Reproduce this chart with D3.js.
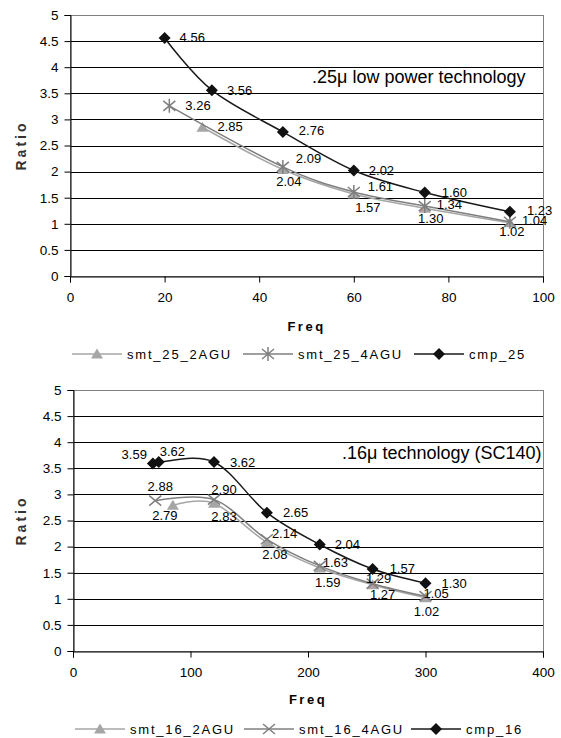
<!DOCTYPE html>
<html lang="en">
<head>
    <meta charset="UTF-8">
    <title>ratio vs freq</title>
    <script src="https://cdn.jsdelivr.net/npm/d3@7"></script>
    <style>
        body { margin: 0; background: #fff; }
        text { font-family: "Liberation Sans", Arial, sans-serif; }
    </style>
</head>
<body>
    <script>
        // values
        var yTicks = [0, 0.5, 1, 1.5, 2, 2.5, 3, 3.5, 4, 4.5, 5]
        var xTicks25 = [0, 20, 40, 60, 80, 100]
        var xTicks16 = [0, 100, 200, 300, 400]

        var freq25_2 = [28, 45, 60, 75, 93]
        var ratio25_2 = [2.85, 2.04, 1.57, 1.30, 1.02]
        var freq25_4 = [21, 45, 60, 75, 93]
        var ratio25_4 = [3.26, 2.09, 1.61, 1.34, 1.04]
        var freqCmp25 = [20, 30, 45, 60, 75, 93]
        var ratioCmp25 = [4.56, 3.56, 2.76, 2.02, 1.60, 1.23]

        var freq16_2 = [85, 120, 165, 210, 255, 300]
        var ratio16_2 = [2.79, 2.83, 2.08, 1.59, 1.27, 1.02]
        var freq16_4 = [70, 120, 165, 210, 255, 300]
        var ratio16_4 = [2.88, 2.90, 2.14, 1.63, 1.29, 1.05]
        var freqCmp16 = [68, 73, 120, 165, 210, 255, 300]
        var ratioCmp16 = [3.59, 3.62, 3.62, 2.65, 2.04, 1.57, 1.30]

        // where each data label sits relative to its point: [dx, dy, anchor]
        var nudge25_2 = [[15, -1, "start"], [6, 12, "middle"], [14, 13, "middle"], [6, 10, "middle"], [2, 9, "middle"]]
        var nudge25_4 = [[16, 0, "start"], [13, -8, "start"], [14, -5, "start"], [12, -2, "start"], [12, -1, "start"]]
        var nudgeCmp25 = [[15, 0, "start"], [15, 0, "start"], [16, -1, "start"], [15, 0, "start"], [17, 0, "start"], [17, -1, "start"]]
        var nudge16_2 = [[-8, 10, "middle"], [10, 13, "middle"], [8, 12, "middle"], [8, 14, "middle"], [10, 10, "middle"], [1, 14, "middle"]]
        var nudge16_4 = [[5, -14, "middle"], [10, -10, "middle"], [5, -6, "start"], [3, -3, "start"], [6, -5, "middle"], [-2, -3, "start"]]
        var nudgeCmp16 = [[-6, -9, "end"], [1, -11, "start"], [16, 0, "start"], [16, 0, "start"], [15, 0, "start"], [17, -1, "start"], [16, 0, "start"]]

        var svg = d3.select("body").append("svg")
            .attr("width", 561)
            .attr("height", 738)

        // marker shapes
        var shapes = {
            triangle: function(g, c) {
                g.append("path").attr("d", "M0,-5.5L6,4.5L-6,4.5Z").attr("fill", c)
            },
            diamond: function(g, c) {
                g.append("path").attr("d", "M0,-6L6,0L0,6L-6,0Z").attr("fill", c)
            },
            star: function(g, c) {
                g.append("path").attr("d", "M0,-7V7M-6,-5L6,5M-6,5L6,-5")
                    .attr("stroke", c).attr("stroke-width", 1.5).attr("fill", "none")
            },
            cross: function(g, c) {
                g.append("path").attr("d", "M-6,-5L6,5M-6,5L6,-5")
                    .attr("stroke", c).attr("stroke-width", 1.5).attr("fill", "none")
            }
        }

        var line = d3.line()
            .x(function(d) { return d.x })
            .y(function(d) { return d.y })
            .curve(d3.curveCardinal.tension(0))

        function drawChart(cfg) {
            var x = d3.scaleLinear().domain(cfg.xDomain).range([cfg.left, cfg.right])
            var y = d3.scaleLinear().domain([0, 5]).range([cfg.bottom, cfg.top])
            var g = svg.append("g")

            // gridlines
            g.append("g").selectAll("line").data(yTicks.slice(1, -1)).enter().append("line")
                .attr("x1", cfg.left).attr("x2", cfg.right)
                .attr("y1", function(d) { return Math.round(y(d)) + 0.5 })
                .attr("y2", function(d) { return Math.round(y(d)) + 0.5 })
                .attr("stroke", "#000").attr("stroke-width", 1)

            // plot border
            g.append("rect")
                .attr("x", cfg.left + 0.5).attr("y", Math.round(cfg.top) + 0.5)
                .attr("width", cfg.right - cfg.left).attr("height", cfg.bottom - cfg.top)
                .attr("fill", "none").attr("stroke", "#808080")

            var yAxis = g.append("g")
                .attr("transform", "translate(" + (cfg.left + 0.5) + ",0)")
                .call(d3.axisLeft(y).tickValues(yTicks).tickSize(6).tickPadding(6).tickFormat(d3.format("")))
            var xAxis = g.append("g")
                .attr("transform", "translate(0," + (Math.round(cfg.bottom) + 0.5) + ")")
                .call(d3.axisBottom(x).tickValues(cfg.xTicks).tickSize(6).tickPadding(10).tickFormat(d3.format("")))
            ;[yAxis, xAxis].forEach(function(a) {
                a.select(".domain").attr("stroke", "#000")
                a.selectAll(".tick line").attr("stroke", "#000")
                a.selectAll("text").attr("fill", "#000").style("font-size", "13.5px")
                    .style("font-family", "'Liberation Sans', Arial, sans-serif")
            })

            // titles
            g.append("text").text("Freq")
                .attr("x", (cfg.left + cfg.right) / 2).attr("y", cfg.freqY)
                .attr("text-anchor", "middle")
                .style("font-weight", "bold").style("font-size", "13px").style("letter-spacing", "2.5px")
            g.append("text").text("Ratio")
                .attr("transform", "translate(26," + ((cfg.top + cfg.bottom) / 2) + ") rotate(-90)")
                .attr("text-anchor", "middle").attr("fill", "#333")
                .style("font-weight", "bold").style("font-size", "14px").style("letter-spacing", "3px")
            g.append("text").text(cfg.title)
                .attr("x", cfg.titleX).attr("y", cfg.titleY)
                .style("font-size", "18px")

            // series
            cfg.series.forEach(function(s) {
                var pts = s.freq.map(function(f, i) { return { x: x(f), y: y(s.ratio[i]) } })
                g.append("path").attr("d", line(pts))
                    .attr("fill", "none").attr("stroke", s.color).attr("stroke-width", 1.5)
                pts.forEach(function(p) {
                    var m = g.append("g").attr("transform", "translate(" + p.x + "," + p.y + ")")
                    shapes[s.shape](m, s.mark)
                })
            })
            cfg.series.forEach(function(s) {
                s.ratio.forEach(function(r, i) {
                    var n = s.nudge[i]
                    g.append("text").text(d3.format(".2f")(r))
                        .attr("x", x(s.freq[i]) + n[0])
                        .attr("y", y(r) + n[1] + 4.5)
                        .attr("text-anchor", n[2])
                        .style("font-size", "13px")
                })
            })

            // legend
            cfg.series.forEach(function(s, i) {
                var lx = cfg.legendX[i]
                var lg = g.append("g")
                lg.append("line").attr("x1", lx).attr("x2", lx + 50)
                    .attr("y1", cfg.legendY).attr("y2", cfg.legendY)
                    .attr("stroke", s.color).attr("stroke-width", 1.5)
                var m = lg.append("g").attr("transform", "translate(" + (lx + 25) + "," + cfg.legendY + ")")
                shapes[s.shape](m, s.mark)
                lg.append("text").text(s.name)
                    .attr("x", lx + 55).attr("y", cfg.legendY + 4.5)
                    .style("font-size", "13px").style("letter-spacing", "1.8px")
            })
        }

        drawChart({
            left: 70, right: 543, top: 15, bottom: 276,
            xDomain: [0, 100], xTicks: xTicks25,
            freqY: 331, title: ".25\u03bc low power technology", titleX: 312, titleY: 83,
            legendY: 354, legendX: [72, 243, 414],
            series: [
                { name: "smt_25_2AGU", freq: freq25_2, ratio: ratio25_2, color: "#a6a6a6", mark: "#a6a6a6", shape: "triangle", nudge: nudge25_2 },
                { name: "smt_25_4AGU", freq: freq25_4, ratio: ratio25_4, color: "#7f7f7f", mark: "#7f7f7f", shape: "star", nudge: nudge25_4 },
                { name: "cmp_25", freq: freqCmp25, ratio: ratioCmp25, color: "#1a1a1a", mark: "#111", shape: "diamond", nudge: nudgeCmp25 }
            ]
        })

        drawChart({
            left: 73, right: 543, top: 390, bottom: 651,
            xDomain: [0, 400], xTicks: xTicks16,
            freqY: 704, title: ".16\u03bc technology (SC140)", titleX: 342, titleY: 459,
            legendY: 729, legendX: [75, 244, 411],
            series: [
                { name: "smt_16_2AGU", freq: freq16_2, ratio: ratio16_2, color: "#a6a6a6", mark: "#a6a6a6", shape: "triangle", nudge: nudge16_2 },
                { name: "smt_16_4AGU", freq: freq16_4, ratio: ratio16_4, color: "#7f7f7f", mark: "#7f7f7f", shape: "cross", nudge: nudge16_4 },
                { name: "cmp_16", freq: freqCmp16, ratio: ratioCmp16, color: "#1a1a1a", mark: "#111", shape: "diamond", nudge: nudgeCmp16 }
            ]
        })
    </script>
</body>
</html>
